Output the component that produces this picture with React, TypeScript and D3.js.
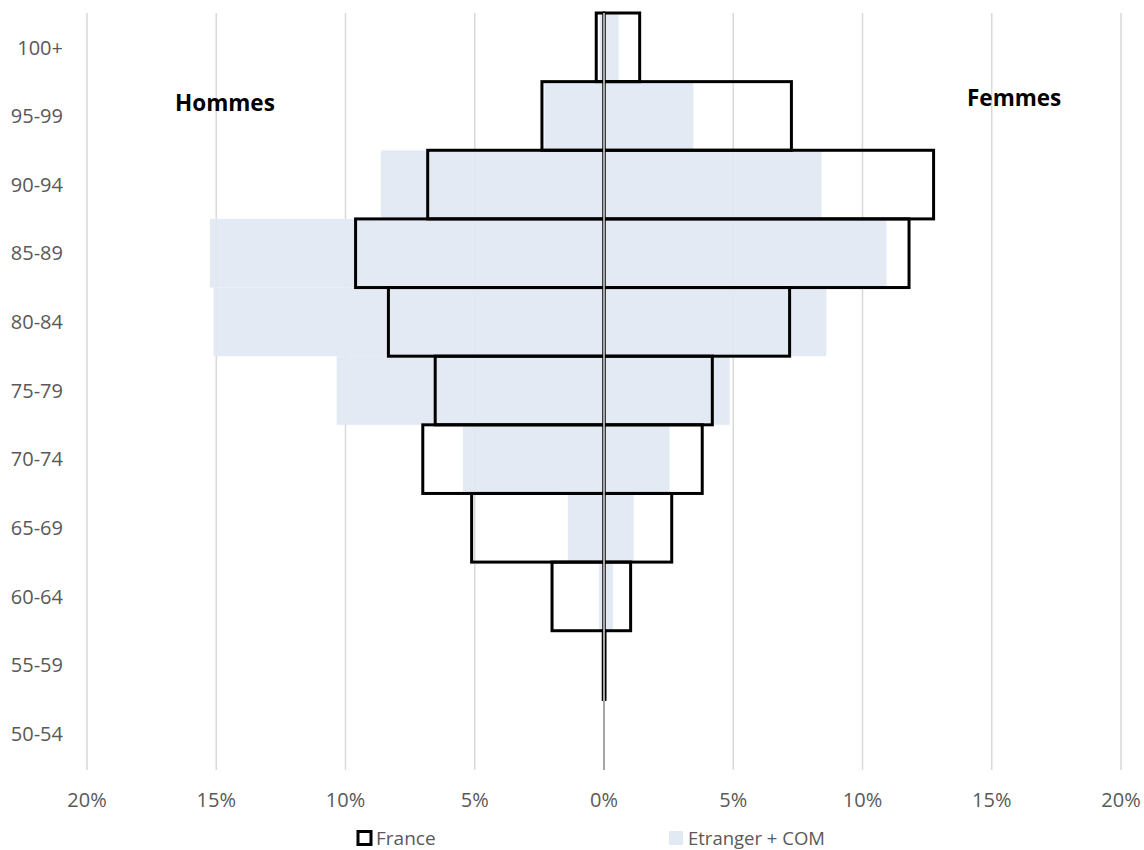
import React from "react";
import * as d3 from "d3";

const ageGroups = ["100+", "95-99", "90-94", "85-89", "80-84", "75-79", "70-74", "65-69", "60-64", "55-59", "50-54"];
const franceMen = [0.3, 2.4, 6.82, 9.61, 8.34, 6.53, 7.01, 5.12, 2.01, 0.03, 0];
const franceWomen = [1.38, 7.25, 12.75, 11.8, 7.18, 4.19, 3.8, 2.62, 1.03, 0.04, 0];
const etrangerMen = [0.17, 2.3, 8.63, 15.25, 15.1, 10.34, 5.46, 1.4, 0.19, 0, 0];
const etrangerWomen = [0.57, 3.46, 8.42, 10.93, 8.6, 4.86, 2.54, 1.15, 0.35, 0, 0];
const xTicks = [-20, -15, -10, -5, 0, 5, 10, 15, 20];

const W = 1144;
const H = 850;
const FONT = "'Open Sans', 'Liberation Sans', sans-serif";

export default function App() {
  const x = d3.scaleLinear().domain([-20, 20]).range([87, 1121]);
  const y = d3.scaleBand<string>().domain(ageGroups).range([13, 768]).padding(0);
  const bw = y.bandwidth();
  const fill = "#e1e9f3";

  return (
    <svg width={W} height={H} style={{ position: "absolute", left: 0, top: 0, background: "#fff" }}>
      {/* gridlines */}
      {xTicks.map((t) => (
        <line key={"g" + t} x1={x(t)} x2={x(t)} y1={13} y2={770} stroke="#d9d9d9" strokeWidth={1.5} />
      ))}
      {/* Etranger + COM fill */}
      {ageGroups.map((g, i) => (
        <g key={"e" + g}>
          {etrangerMen[i] > 0 && (
            <rect x={x(-etrangerMen[i])} y={y(g)!} width={x(0) - x(-etrangerMen[i])} height={bw} fill={fill} opacity={0.95} />
          )}
          {etrangerWomen[i] > 0 && (
            <rect x={x(0)} y={y(g)!} width={x(etrangerWomen[i]) - x(0)} height={bw} fill={fill} opacity={0.95} />
          )}
        </g>
      ))}
      {/* France outline */}
      {ageGroups.map((g, i) => (
        <g key={"f" + g}>
          {franceMen[i] > 0 && (
            <rect x={x(-franceMen[i])} y={y(g)!} width={x(0) - x(-franceMen[i])} height={bw} fill="none" stroke="#000" strokeWidth={3} />
          )}
          {franceWomen[i] > 0 && (
            <rect x={x(0)} y={y(g)!} width={x(franceWomen[i]) - x(0)} height={bw} fill="none" stroke="#000" strokeWidth={3} />
          )}
        </g>
      ))}
      {/* central axis */}
      <line x1={x(0)} x2={x(0)} y1={13} y2={770} stroke="#a6a6a6" strokeWidth={2} />
      {/* category labels */}
      {ageGroups.map((g) => (
        <text key={"l" + g} x={63} y={y(g)! + bw / 2} dy="0.36em" textAnchor="end" fontFamily={FONT} fontSize={20} fill="#595959">
          {g}
        </text>
      ))}
      {/* x tick labels */}
      {xTicks.map((t) => (
        <text key={"t" + t} x={x(t)} y={807} textAnchor="middle" fontFamily={FONT} fontSize={20} fill="#595959">
          {Math.abs(t) + "%"}
        </text>
      ))}
      {/* Hommes / Femmes */}
      <text x={175} y={111} fontFamily={FONT} fontSize={22.5} fontWeight="bold" fill="#000">Hommes</text>
      <text x={967} y={106} fontFamily={FONT} fontSize={22.5} fontWeight="bold" fill="#000">Femmes</text>
      {/* legend */}
      <rect x={358} y={831.5} width={13} height={13} fill="none" stroke="#000" strokeWidth={3} />
      <text x={376} y={844.5} fontFamily={FONT} fontSize={19} fill="#595959">France</text>
      <rect x={669} y={831} width={14} height={14} fill={fill} />
      <text x={688} y={844.5} fontFamily={FONT} fontSize={18.5} fill="#595959">Etranger + COM</text>
    </svg>
  );
}
